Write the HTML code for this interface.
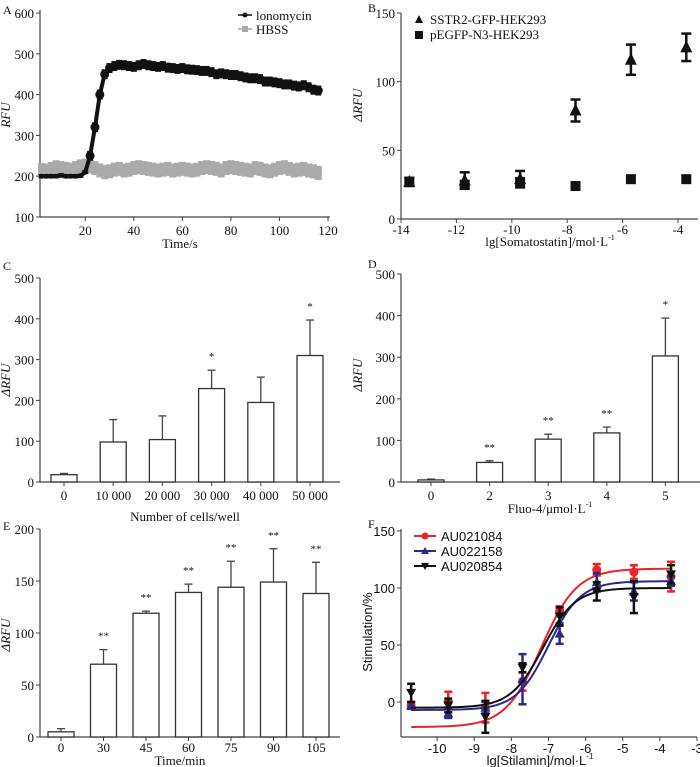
<!DOCTYPE html>
<html><head><meta charset="utf-8">
<style>
html,body{margin:0;padding:0;background:#fff;}
svg{display:block;font-family:"Liberation Serif",serif;}
text{fill:#111;}
.t{font-size:13px;}
.s{font-family:"Liberation Sans",sans-serif;}
</style></head>
<body>
<svg id="fig" width="700" height="767" viewBox="0 0 700 767"></svg>
<script>
// ---------- Panel A data ----------
const aTimes = [2,4,6,8,10,12,14,16,18,20,22,24,26,28,30,32,34,36,38,40,42,44,46,48,50,52,54,56,58,60,62,64,66,68,70,72,74,76,78,80,82,84,86,88,90,92,94,96,98,100,102,104,106,108,110,112,114,116];
const aIono = [200,200,200,200,202,200,200,200,201,210,250,320,400,450,465,470,473,472,470,468,472,475,472,470,468,470,466,465,463,465,462,461,460,458,458,455,450,452,450,448,448,445,442,440,440,438,432,432,430,428,425,425,422,420,423,418,412,410];
const aHbss = [215,214,218,222,220,218,216,220,224,226,224,220,214,210,212,216,218,214,216,220,222,220,218,216,214,216,218,214,216,218,216,214,216,220,222,220,218,214,220,222,220,218,216,214,220,218,214,212,216,220,222,218,214,216,218,214,212,208];
// ---------- Panel B data ----------
const bX = [-13.7,-11.7,-9.7,-7.7,-5.7,-3.7];
const bSstr = [27,28,29,79,116,125];
const bSstrErr = [3,6,6,8,11,10];
const bPegfp = [27,25,27,24,29,29];
// ---------- Panel C data ----------
const cCats = ["0","10 000","20 000","30 000","40 000","50 000"];
const cVals = [18,98,104,229,195,310];
const cErr = [3,55,58,45,62,87];
const cStars = ["","","","*","","*"];
// ---------- Panel D data ----------
const dCats = ["0","2","3","4","5"];
const dVals = [5,47,103,118,303];
const dErr = [2,4,12,14,91];
const dStars = ["","**","**","**","*"];
// ---------- Panel E data ----------
const eCats = ["0","30","45","60","75","90","105"];
const eVals = [5,70,119,139,144,149,138];
const eErr = [3,14,2,8,25,32,30];
const eStars = ["","**","**","**","**","**","**"];
// ---------- Panel F data ----------
const fX = [-10.7,-9.7,-8.7,-7.7,-6.7,-5.7,-4.7,-3.7];
const fRed = [-3,0,-5,18,80,116,114,110];
const fRedErr = [3,9,13,8,4,5,6,13];
const fBlue = [-3,-10,-5,20,60,105,97,106];
const fBlueErr = [3,4,5,22,9,8,8,4];
const fBlack = [8,-3,-13,30,75,97,92,112];
const fBlackErr = [8,6,14,4,8,8,14,8];
const fBottom = [-22,-7,-5];
const fTop = [117,106,100];
const fLogEC50 = [-7.2,-7.0,-7.15];
const fHill = [0.9,1.0,1.0];

const NS="http://www.w3.org/2000/svg";
const svg=document.getElementById('fig');
function el(tag,attrs,parent,txt){const e=document.createElementNS(NS,tag);for(const k in attrs)e.setAttribute(k,attrs[k]);if(txt!==undefined)e.textContent=txt;(parent||svg).appendChild(e);return e;}
function grp(name){const g=el('g',{});


return g;}
function lin(d0,d1,r0,r1){return v=>r0+(v-d0)*(r1-r0)/(d1-d0);}
const AX='#444';

function yAxis(g,x,y0,y1,ticks,sy){
  const l=el('line',{x1:x,y1:y0,x2:x,y2:y1,stroke:AX,'stroke-width':1.2},g);
  
  ticks.forEach(t=>{el('line',{x1:x-4,y1:sy(t),x2:x,y2:sy(t),stroke:AX},g);
    const tx=el('text',{x:x-6,y:sy(t)+5,'text-anchor':'end',class:'t'},g,String(t));
    });
}
function xAxis(g,y,x0,x1,ticks,sx,labels,off){
  const l=el('line',{x1:x0,y1:y,x2:x1,y2:y,stroke:AX,'stroke-width':1.2},g);
  
  ticks.forEach((t,i)=>{el('line',{x1:sx(t),y1:y,x2:sx(t),y2:y+4,stroke:AX},g);
    const tx=el('text',{x:sx(t),y:y+off,'text-anchor':'middle',class:'t'},g,labels?labels[i]:String(t));
    });
}
function errBar(g,x,ya,yb,cap,color,w){
  el('line',{x1:x,y1:ya,x2:x,y2:yb,stroke:color,'stroke-width':w||1.2},g);
  el('line',{x1:x-cap,y1:ya,x2:x+cap,y2:ya,stroke:color,'stroke-width':w||1.2},g);
  el('line',{x1:x-cap,y1:yb,x2:x+cap,y2:yb,stroke:color,'stroke-width':w||1.2},g);
}
function label(g,x,y,txt,name,extra){const t=el('text',Object.assign({x:x,y:y,'font-size':13},extra||{}),g,txt);

return t;}
function ylabel(g,x,y,txt,italic,sans){const t=el('text',{x:x,y:y,'font-size':13,'text-anchor':'middle',transform:`rotate(-90 ${x} ${y})`,'font-style':italic?'italic':'normal',class:sans?'s':''},g,txt);

return t;}

// ===== Panel A =====
(function(){
 const g=grp('panel-a');
 const sx=lin(0,120,36.7,328), sy=lin(100,600,217,13);
 label(g,3,14,'A','panel-label-a',{'font-size':12});
 yAxis(g,40,10,217,[100,200,300,400,500,600],sy);
 xAxis(g,217,40,330,[20,40,60,80,100,120],sx,null,18);
 label(g,180,248,'Time/s','x-axis-title',{'text-anchor':'middle'});
 ylabel(g,10,115,'RFU',true);
 const gh=grp('series-hbss');g.appendChild(gh);
 el('polyline',{points:aTimes.map((t,i)=>sx(t)+','+sy(aHbss[i])).join(' '),fill:'none',stroke:'#aaa','stroke-width':5},gh);
 aTimes.forEach((t,i)=>{const r=el('rect',{x:sx(t)-3.5,y:sy(aHbss[i])-7,width:7,height:14,fill:'#aaa'},gh);
  });
 const gi=grp('series-ionomycin');g.appendChild(gi);
 el('polyline',{points:aTimes.map((t,i)=>sx(t)+','+sy(aIono[i])).join(' '),fill:'none',stroke:'#111','stroke-width':4},gi);
 aTimes.forEach((t,i)=>{const x=sx(t),y=sy(aIono[i]);
  const e=i>9?10:3;
  errBar(gi,x,sy(aIono[i]+e),sy(aIono[i]-e),3,'#111',1.8);
  const c=el('circle',{cx:x,cy:y,r:i>9?4.5:2.5,fill:'#111'},gi);
  });
 const lg=grp('legend-a');g.appendChild(lg);
 el('line',{x1:238,y1:15,x2:252,y2:15,stroke:'#111','stroke-width':1.5},lg);
 el('circle',{cx:245,cy:15,r:2.5,fill:'#111'},lg);
 label(lg,256,20,'lonomycin','legend-entry-ionomycin');
 el('line',{x1:238,y1:29,x2:252,y2:29,stroke:'#aaa','stroke-width':1.5},lg);
 el('rect',{x:242,y:26,width:6,height:6,fill:'#aaa'},lg);
 label(lg,256,34,'HBSS','legend-entry-hbss');
})();

// ===== Panel B =====
(function(){
 const g=grp('panel-b');
 const sx=lin(-14,-4,401,678), sy=lin(0,150,219,13);
 label(g,368,12,'B','panel-label-b',{'font-size':12});
 yAxis(g,401,13,219,[0,50,100,150],sy);
 xAxis(g,219,401,698,[-14,-12,-10,-8,-6,-4],sx,null,15);
 const t=label(g,550,246,'lg[Somatostatin]/mol·L','x-axis-title',{'text-anchor':'middle'});
 el('tspan',{'font-size':8,dy:-6},t,'-1');
 ylabel(g,362,105,'ΔRFU',true);
 bX.forEach((x,i)=>{const px=sx(x);
  const s=el('rect',{x:px-5,y:sy(bPegfp[i])-5,width:10,height:10,fill:'#111'},g);
  
  errBar(g,px,sy(bSstr[i]+bSstrErr[i]),sy(bSstr[i]-bSstrErr[i]),5,'#111',2.5);
  const tr=el('polygon',{points:`${px},${sy(bSstr[i])-7} ${px-6},${sy(bSstr[i])+5} ${px+6},${sy(bSstr[i])+5}`,fill:'#111'},g);
  });
 const lg=grp('legend-b');g.appendChild(lg);
 el('polygon',{points:'419,15 415,23 423,23',fill:'#111'},lg);
 label(lg,430,24,'SSTR2-GFP-HEK293','legend-entry-sstr2');
 el('rect',{x:415,y:31,width:8,height:8,fill:'#111'},lg);
 label(lg,430,39,'pEGFP-N3-HEK293','legend-entry-pegfp');
})();

function barPanel(name,letter,lx,ly,axX,axEnd,yTop,yBot,vmax,ticks,c0,step,cats,vals,errs,stars,bw,off){
 const g=grp(name);
 const sy=lin(0,vmax,yBot,yTop);
 const sx=i=>c0+i*step;
 label(g,lx,ly,letter,'panel-label-'+letter.toLowerCase(),{'font-size':12});
 yAxis(g,axX,yTop,yBot,ticks,sy);
 xAxis(g,yBot,axX,axEnd,cats.map((c,i)=>i),sx,cats,off);
 vals.forEach((v,i)=>{const x=sx(i);
  el('line',{x1:x,y1:sy(v),x2:x,y2:sy(v+errs[i]),stroke:AX,'stroke-width':1.3},g);
  el('line',{x1:x-4,y1:sy(v+errs[i]),x2:x+4,y2:sy(v+errs[i]),stroke:AX,'stroke-width':1.3},g);
  const r=el('rect',{x:x-bw/2,y:sy(v),width:bw,height:yBot-sy(v),fill:'#fff',stroke:'#333','stroke-width':1.3},g);
  
  if(stars[i]){const s=el('text',{x:x,y:sy(v+errs[i])-10,'text-anchor':'middle','font-size':11},g,stars[i]);
   }
 });
 return g;
}
(function(){
 const g=barPanel('panel-c','C',3,270,40,340,278,482,500,[0,100,200,300,400,500],64,49.2,cCats,cVals,cErr,cStars,26,18);
 label(g,185,521,'Number of cells/well','x-axis-title',{'text-anchor':'middle'});
 ylabel(g,10,380,'ΔRFU',true);
})();
(function(){
 const g=barPanel('panel-d','D',368,268,401,700,274,482,500,[0,100,200,300,400,500],431,58.6,dCats,dVals,dErr,dStars,26,18);
 const t=label(g,550,513,'Fluo-4/μmol·L','x-axis-title',{'text-anchor':'middle'});
 el('tspan',{'font-size':8,dy:-6},t,'-1');
 ylabel(g,362,375,'ΔRFU',true);
})();
(function(){
 const g=barPanel('panel-e','E',3,530,40,340,529,737,200,[0,50,100,150,200],61,42.5,eCats,eVals,eErr,eStars,26,15);
 label(g,180,765,'Time/min','x-axis-title',{'text-anchor':'middle'});
 ylabel(g,10,635,'ΔRFU',true);
})();

// ===== Panel F =====
(function(){
 const g=grp('panel-f');
 const sx=lin(-11,-3,400,697), sy=lin(0,150,702,531);
 label(g,368,528,'F','panel-label-f',{'font-size':12});
 yAxis(g,401,529,737,[0,50,100,150],sy);
 xAxis(g,737,401,697,[-10,-9,-8,-7,-6,-5,-4,-3],sx,null,16);
 g.querySelectorAll('text').forEach(t=>{if(t.getAttribute('class')==='t')t.setAttribute('class','t s');});
 const t=label(g,540,765,'lg[Stilamin]/mol·L','x-axis-title',{'text-anchor':'middle',class:'s'});
 el('tspan',{'font-size':8,dy:-6},t,'-1');
 ylabel(g,372,632,'Stimulation/%',false,true);
 const series=[[fRed,fRedErr,'#e8252b','circle','series-au021084'],[fBlue,fBlueErr,'#2a2a8a','tri','series-au022158'],[fBlack,fBlackErr,'#111','itri','series-au020854']];
 series.forEach((s,k)=>{const gs=grp(s[4]);g.appendChild(gs);
  const pts=[];for(let x=-10.7;x<=-3.69;x+=0.05){const y=fBottom[k]+(fTop[k]-fBottom[k])/(1+Math.pow(10,(fLogEC50[k]-x)*fHill[k]));pts.push(sx(x)+','+sy(y));}
  const c=el('polyline',{points:pts.join(' '),fill:'none',stroke:s[2],'stroke-width':2},gs);
  
  fX.forEach((x,i)=>{const px=sx(x),py=sy(s[0][i]);
   errBar(gs,px,sy(s[0][i]+s[1][i]),sy(s[0][i]-s[1][i]),4,s[2],2.5);
   let m;
   if(s[3]==='circle')m=el('circle',{cx:px,cy:py,r:4.5,fill:s[2]},gs);
   else if(s[3]==='tri')m=el('polygon',{points:`${px},${py-5} ${px-5},${py+4} ${px+5},${py+4}`,fill:s[2]},gs);
   else m=el('polygon',{points:`${px},${py+5} ${px-5},${py-4} ${px+5},${py-4}`,fill:s[2]},gs);
   });
 });
 const lg=grp('legend-f');g.appendChild(lg);
 const names=['AU021084','AU022158','AU020854'];
 series.forEach((s,k)=>{const y=536+k*15;
  el('line',{x1:414,y1:y,x2:436,y2:y,stroke:s[2],'stroke-width':2},lg);
  if(k===0)el('circle',{cx:425,cy:y,r:3.5,fill:s[2]},lg);
  else if(k===1)el('polygon',{points:`425,${y-4} 421,${y+3} 429,${y+3}`,fill:s[2]},lg);
  else el('polygon',{points:`425,${y+4} 421,${y-3} 429,${y-3}`,fill:s[2]},lg);
  label(lg,441,y+5,names[k],'legend-entry-'+names[k].toLowerCase(),{class:'s'});
 });
})();
</script>
</body></html>
